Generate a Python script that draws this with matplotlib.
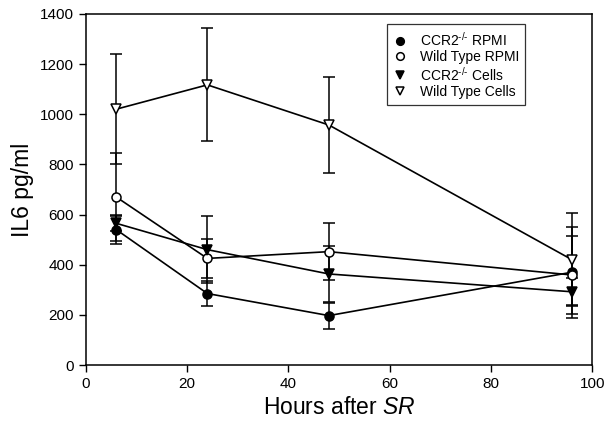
import matplotlib
matplotlib.use("Agg")
import matplotlib.pyplot as plt
from matplotlib.lines import Line2D

plt.rcParams['font.family'] = ['Liberation Sans', 'DejaVu Sans']
plt.rcParams['mathtext.fontset'] = 'custom'
plt.rcParams['mathtext.rm'] = 'Liberation Sans'
plt.rcParams['mathtext.it'] = 'Liberation Sans:italic'

# hours after SR
hours = [6, 24, 48, 96]

# IL6 means and error (pg/ml)
ccr2_rpmi = [540, 285, 197, 370]
ccr2_rpmi_err = [58, 50, 52, 182]
wt_rpmi = [670, 425, 452, 359]
wt_rpmi_err = [177, 78, 115, 157]
ccr2_cells = [565, 460, 363, 292]
ccr2_cells_err = [30, 135, 110, 53]
wt_cells = [1020, 1117, 957, 420]
wt_cells_err = [220, 225, 190, 185]

labels = ['CCR2$^{\\text{-/-}}$ RPMI', 'Wild Type RPMI',
          'CCR2$^{\\text{-/-}}$ Cells', 'Wild Type Cells']

fig = plt.figure(figsize=(6.13, 4.21), dpi=100)
ax = fig.add_axes([0.140, 0.133, 0.826, 0.834])

series = [
    (ccr2_rpmi, ccr2_rpmi_err, 'o', 'black', 6.5),
    (wt_rpmi, wt_rpmi_err, 'o', 'white', 6.5),
    (ccr2_cells, ccr2_cells_err, 'v', 'black', 7),
    (wt_cells, wt_cells_err, 'v', 'white', 7),
]

for vals, err, m, fc, ms in series:
    ax.errorbar(hours, vals, yerr=err, color='black', lw=1.2, elinewidth=1.1,
                capsize=4, capthick=1.1, marker=m, markersize=ms,
                markerfacecolor=fc, markeredgecolor='black', markeredgewidth=1.1,
                zorder=3)

ax.set_xlim(0, 100)
ax.set_ylim(0, 1400)
ax.set_xticks([0, 20, 40, 60, 80, 100])
ax.set_yticks(range(0, 1401, 200))
ax.tick_params(direction='out', length=5, width=1, labelsize=11, top=False, right=False)
for s in ax.spines.values():
    s.set_linewidth(1.1)

ax.set_xlabel('Hours after $\\mathit{SR}$', fontsize=16.5, labelpad=4)
ax.set_ylabel('IL6 pg/ml', fontsize=16.5, labelpad=4)

handles = [Line2D([], [], linestyle='none', marker=m, markersize=ms - 1,
                  markerfacecolor=fc, markeredgecolor='black', markeredgewidth=1.1)
           for _, _, m, fc, ms in series]
leg = ax.legend(handles, labels, loc='upper left', bbox_to_anchor=(0.595, 0.97),
                fontsize=10, frameon=True, fancybox=False, handlelength=1.0,
                handletextpad=0.9, labelspacing=0.1, borderpad=0.45, borderaxespad=0)
leg.get_frame().set_edgecolor('black')
leg.get_frame().set_linewidth(0.9)

fig.savefig('out.png', dpi=100)
